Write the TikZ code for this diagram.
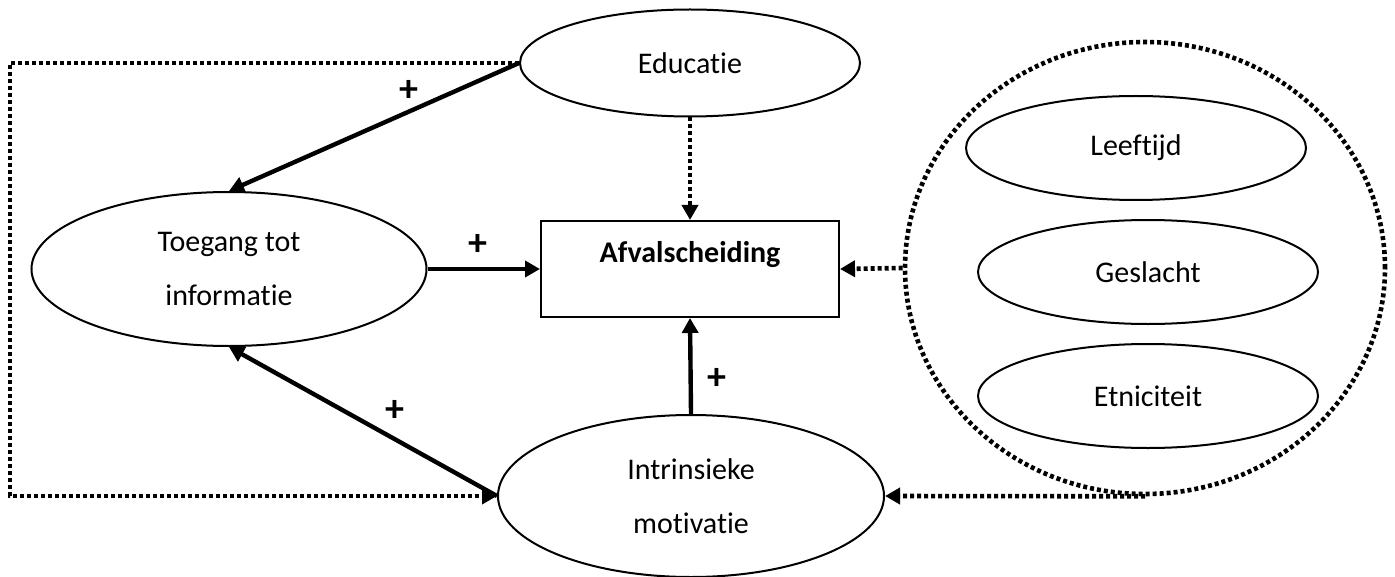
\documentclass[tikz,border=0pt]{standalone}
\usepackage{fontspec}
\setmainfont{Carlito}[Ligatures=NoCommon]
\usetikzlibrary{arrows.meta, positioning, shapes.geometric}
\tikzset{
  figellipse/.style={ellipse, draw=black, line width=1pt, inner sep=0pt, align=center,
    font=\fontsize{15pt}{26.75pt}\selectfont},
  figbox/.style={rectangle, draw=black, line width=1pt, inner sep=0pt, align=center,
    font=\bfseries\fontsize{15pt}{17pt}\selectfont, text height=10.5pt, text depth=17.5pt},
  figdots/.style={line width=2.3pt, dash pattern=on 2pt off 1.5pt},
  figgroup/.style={ellipse, draw=black, figdots, inner sep=0pt},
  figarrow/.style={-{Triangle[length=7.5pt, width=8pt]}, line width=2.2pt},
  figdotarrow/.style={figdots, -{Triangle[length=7.5pt, width=8pt]}},
  figplus/.style={font=\bfseries\fontsize{19pt}{20pt}\selectfont, inner sep=0pt},
}
\begin{document}
\begin{tikzpicture}[x=0.5pt, y=-0.5pt]
  \useasboundingbox (0,0) rectangle (1395,577);
  \node[figellipse, minimum width=170pt, minimum height=53.5pt] (edu) at (690,63) {Educatie};
  \node[figellipse, minimum width=197.5pt, minimum height=77pt] (toeg) at (229,269) {Toegang tot\\informatie};
  \node[figbox, minimum width=149pt, minimum height=48pt] (afval) at (690,269) {Afvalscheiding};
  \node[figellipse, minimum width=193pt, minimum height=81pt] (intr) at (691,496) {Intrinsieke\\motivatie};
  % groep achtergrondkenmerken
  \node[figgroup, minimum width=240pt, minimum height=226pt] (groep) at (1145,268) {};
  \node[figellipse, minimum width=170pt, minimum height=52pt] (gesl) at (1148,272) {Geslacht};
  \node[figellipse, minimum width=170pt, minimum height=52pt, above=9pt of gesl, xshift=-6pt] (leef) {Leeftijd};
  \node[figellipse, minimum width=170pt, minimum height=52pt, below=9pt of gesl] (etni) {Etniciteit};
  \coordinate (hoek) at (10,63);
  \draw[figarrow] (edu.west) -- node[figplus, pos=0.38, above=4pt] (plus1) {+} (toeg.north);
  \draw[figarrow] (toeg.east) -- node[figplus, pos=0.45, above=5.5pt] (plus2) {+} (afval.west);
  \draw[figarrow] (intr.west) -- node[figplus, pos=0.38, above=8pt] (plus3) {+} (toeg.south);
  \draw[figarrow] (intr.north) -- node[figplus, pos=0.36, right=7.5pt] (plus4) {+} (afval.south);
  \draw[figdotarrow] (edu.south) -- (afval.north);
  \draw[figdotarrow] (groep.west) -- (afval.east);
  \draw[figdotarrow] (groep.south) -- (intr.east);
  \draw[figdotarrow] (edu.west) -- (hoek) |- (intr.west);
\end{tikzpicture}
\end{document}
